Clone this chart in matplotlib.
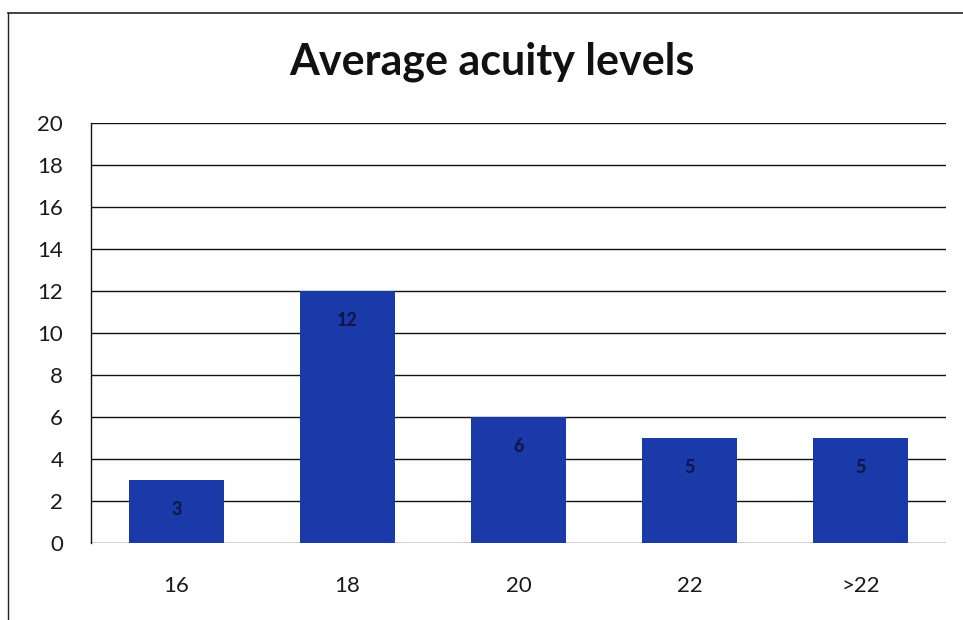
import numpy as np
import matplotlib.pyplot as plt
from matplotlib.lines import Line2D

# DATA ---------------------------------------------------------------------------------------------
categories = ['16', '18', '20', '22', '>22']
counts = [3, 12, 6, 5, 5]
y_ticks = list(range(0, 21, 2))

bar_color = '#1a3aaa'
label_color = '#10164a'

# PLOT ---------------------------------------------------------------------------------------------
plt.rcParams['font.family'] = ['Lato', 'DejaVu Sans']

fig = plt.figure(figsize=(9.63, 6.2), dpi=100)
ax = fig.add_axes([91 / 963, 1 - 543 / 620, 855 / 963, 420 / 620])

x = np.arange(len(categories))
bars = ax.bar(x, counts, width=0.55, color=bar_color, zorder=3)

ax.set_xlim(-0.5, len(categories) - 0.5)
ax.set_ylim(0, 20)
ax.set_yticks(y_ticks)
ax.set_xticks(x)
ax.set_xticklabels(categories)
ax.tick_params(axis='both', length=0, labelsize=16, colors='#1a1a1a')
ax.tick_params(axis='x', pad=24)
ax.tick_params(axis='y', pad=20)

ax.grid(axis='y', color='#111111', linewidth=1.0, zorder=0)
for side in ['top', 'right', 'bottom']:
    ax.spines[side].set_visible(False)
ax.spines['left'].set_color('#111111')
ax.spines['left'].set_linewidth(1.0)

# value labels sit inside the bars, just under the top
for bar, v in zip(bars, counts):
    ax.text(bar.get_x() + bar.get_width() / 2, v - 1.4, str(v),
            ha='center', va='center', fontsize=13, fontweight='black',
            color=label_color, zorder=4)

fig.text(492 / 963, 1 - 62 / 620, 'Average acuity levels', ha='center', va='center',
         fontsize=31, fontweight='bold', color='#111111')

# chart frame (left and top edges)
fig.add_artist(Line2D([8 / 963, 8 / 963], [0, 1 - 13 / 620], transform=fig.transFigure,
                      color='#222222', linewidth=1.0))
fig.add_artist(Line2D([8 / 963, 1], [1 - 13 / 620, 1 - 13 / 620], transform=fig.transFigure,
                      color='#222222', linewidth=1.2))

fig.savefig('out.png', dpi=100)
